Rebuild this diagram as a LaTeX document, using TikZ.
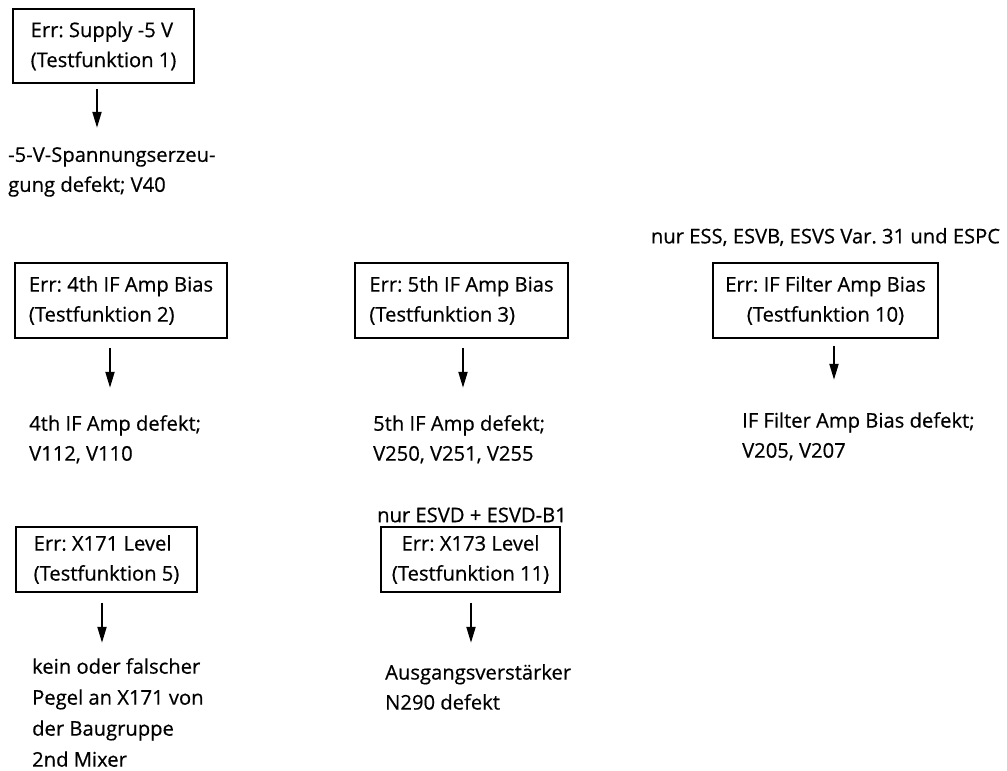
\documentclass[tikz,border=0pt]{standalone}
\usepackage{fontspec}
\setmainfont{Open Sans}[FakeBold=0.5]
\usepackage{tikz}
\usetikzlibrary{arrows.meta,positioning}
\frenchspacing

\begin{document}
\begin{tikzpicture}[x=1pt,y=-1pt,
  errbox/.style={draw,line width=1.6pt,inner sep=0pt,font=\fontsize{20.2}{30}\selectfont},
  result/.style={anchor=north west,inner sep=0pt,align=left,font=\fontsize{20.2}{30}\selectfont},
  remark/.style={inner sep=0pt,font=\fontsize{20.2}{30}\selectfont},
  arr/.style={line width=2pt,-{Triangle[length=16pt,width=9pt]}}]
  \useasboundingbox (0,0) rectangle (1007,771);
  % Testfunktion 1
  \node[errbox,align=left,minimum width=181pt,minimum height=74pt] (supply) at (103.5,46) {Err: Supply -5 V\\(Testfunktion 1)};
  \node[result] (supplyres) at (8,147) {-5-V-Spannungserzeu-\\gung defekt; V40};
  \draw[arr] (supply.south) ++(-6.5,5) -- ++(0,39);
  % Testfunktion 2, 3, 10
  \node[errbox,align=left,minimum width=212pt,minimum height=75pt] (ifamp4) at (121,300.5) {Err: 4th IF Amp Bias\\(Testfunktion 2)};
  \node[errbox,align=left,minimum width=213pt,minimum height=75pt] (ifamp5) at (461.5,300.5) {Err: 5th IF Amp Bias\\(Testfunktion 3)};
  \node[errbox,align=center,minimum width=225pt,minimum height=75pt] (iffilter) at (825.5,300.5) {Err: IF Filter Amp Bias\\(Testfunktion 10)};
  \node[remark] (iffilternote) at (825.5,237) {nur ESS, ESVB, ESVS Var.~31 und ESPC};
  \node[result] (ifamp4res) at (29,415) {4th IF Amp defekt;\\V112, V110};
  \node[result] (ifamp5res) at (373,415) {5th IF Amp defekt;\\V250, V251, V255};
  \node[result] (iffilterres) at (742,412) {IF Filter Amp Bias defekt;\\V205, V207};
  \draw[arr] (ifamp4.south) ++(-11,9) -- ++(0,40);
  \draw[arr] (ifamp5.south) ++(1.5,9) -- ++(0,40);
  \draw[arr] (iffilter.south) ++(8.5,7) -- ++(0,34);
  % Testfunktion 5, 11
  \node[errbox,align=left,minimum width=181pt,minimum height=65pt] (xlevel1) at (106.5,559.5) {Err: X171 Level\\(Testfunktion 5)};
  \node[errbox,align=center,minimum width=179pt,minimum height=65pt] (xlevel3) at (470.5,559.5) {Err: X173 Level\\(Testfunktion 11)};
  \node[remark] (xlevel3note) at (472,515) {nur ESVD + ESVD-B1};
  \node[result,font=\fontsize{20.2}{31}\selectfont] (xlevel1res) at (32,658) {kein oder falscher\\Pegel an X171 von\\der Baugruppe\\2nd Mixer};
  \node[result] (xlevel3res) at (385,664) {Ausgangsverstärker\\N290 defekt};
  \draw[arr] (xlevel1.south) ++(-4.5,10) -- ++(0,40);
  \draw[arr] (xlevel3.south) ++(0.5,10) -- ++(0,40);
\end{tikzpicture}
\end{document}
